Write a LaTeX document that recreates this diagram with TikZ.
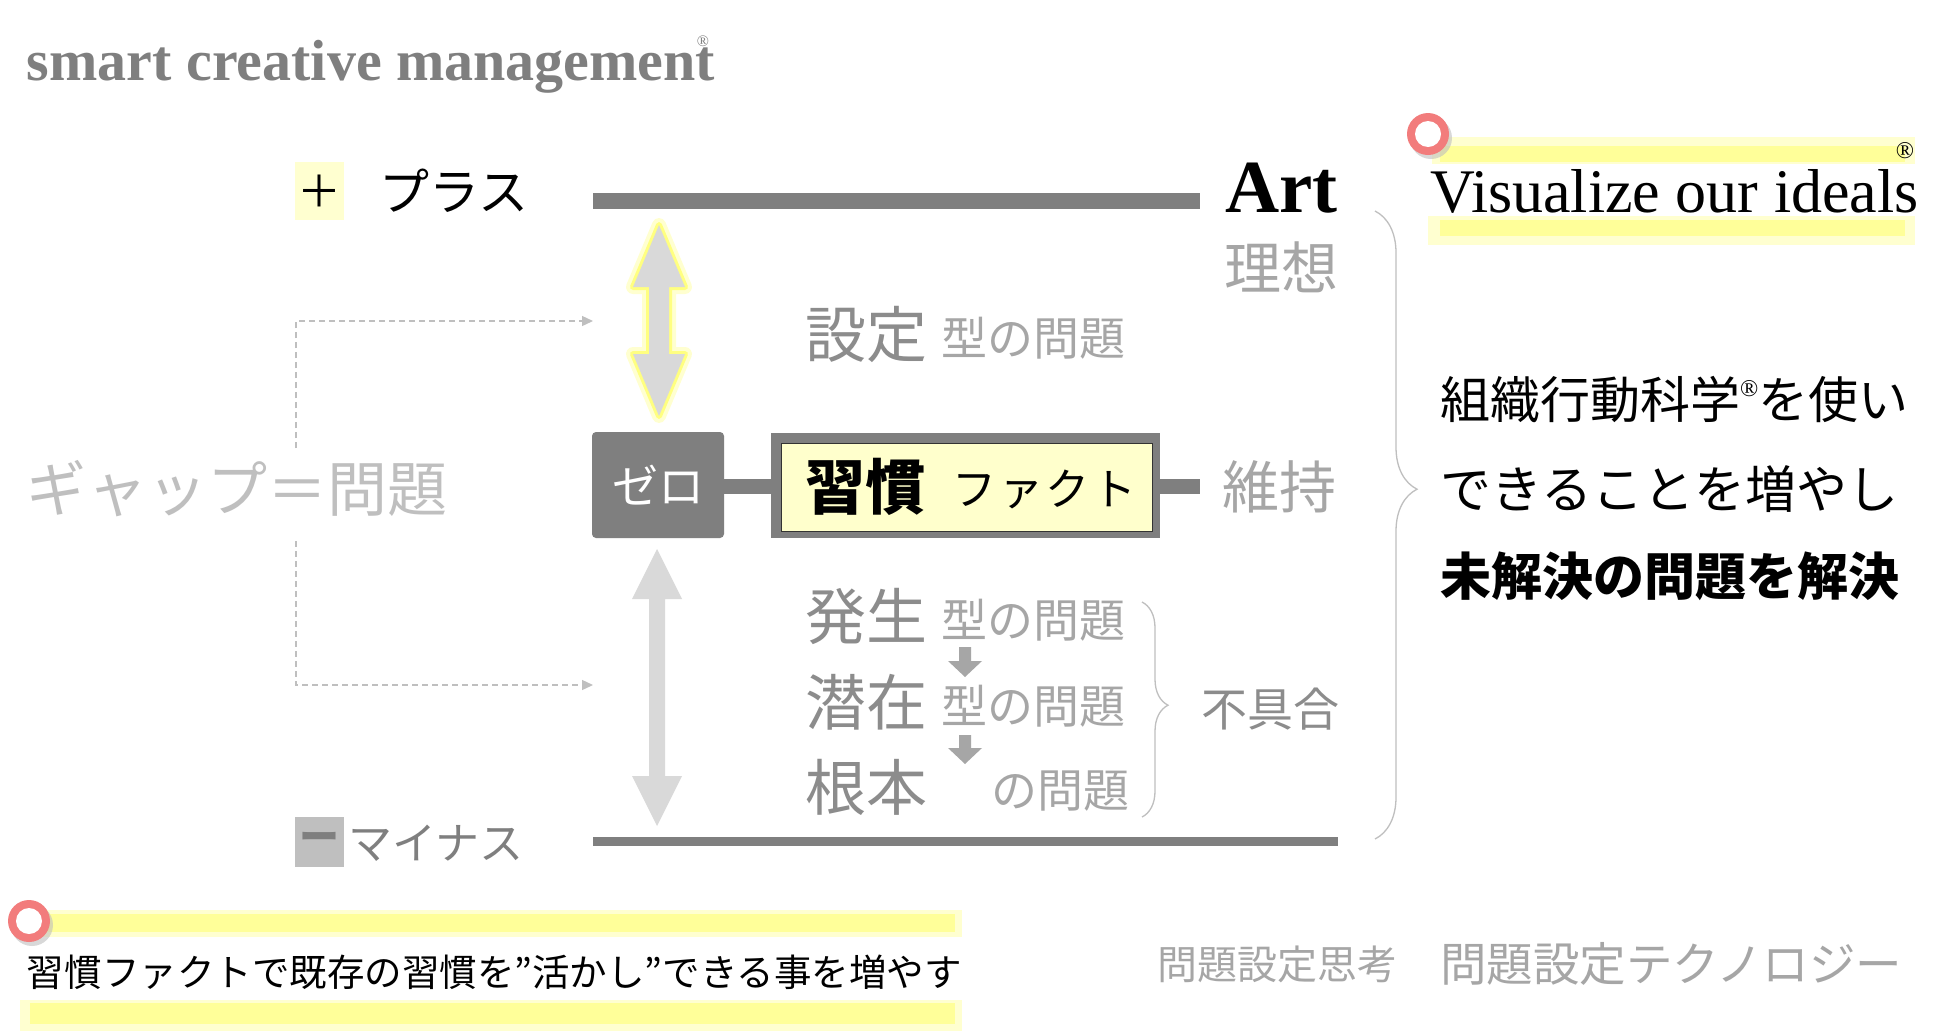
\documentclass[tikz,border=0pt]{standalone}
\usepackage{fontspec}
\setmainfont{Liberation Serif}
\newfontfamily\jp{Noto Sans CJK JP}
\usetikzlibrary{arrows.meta,decorations.pathreplacing,calc}
\definecolor{dgray}{HTML}{7F7F7F}
\definecolor{mgray}{HTML}{8C8C8C}
\definecolor{lgray}{HTML}{A6A6A6}
\definecolor{vlgray}{HTML}{BFBFBF}
\definecolor{agray}{HTML}{D9D9D9}
\definecolor{hly}{HTML}{FFFF99}
\definecolor{hlyl}{HTML}{FFFFD0}
\definecolor{glowy}{HTML}{FFFF80}
\definecolor{ringred}{HTML}{F27C7C}
\definecolor{boxy}{HTML}{FFFFCC}
\begin{document}
\begin{tikzpicture}[x=1pt,y=-1pt,
  txt/.style={inner sep=0pt, outer sep=0pt, anchor=west},
  jt/.style={txt, font=\jp\fontsize{#1}{#1}\selectfont},
  lt/.style={inner sep=0pt, outer sep=0pt, anchor=base west, font=\fontsize{#1}{#1}\selectfont},
  bar/.style={fill=dgray, inner sep=0pt, outer sep=0pt, anchor=west},
  hlo/.style={fill=hlyl},
  hli/.style={fill=hly},
  dashconn/.style={draw=vlgray, line width=1.3, dash pattern=on 6pt off 4pt},
  brc/.style={draw=vlgray, line width=1.3, decorate},
  smallarr/.style={fill=lgray}
]
\useasboundingbox (0,0) rectangle (1950,1031);
\fill[white] (0,0) rectangle (1950,1031);

% title
\node[lt=57, font=\bfseries\fontsize{58}{58}\selectfont, text=dgray] (title) at (27,80) {smart creative management};
\node[inner sep=0pt, font=\fontsize{16}{16}\selectfont, text=dgray] (titler) at (703,41) {®};

% plus / minus labels
\node[fill=hlyl, minimum width=49, minimum height=58, inner sep=0pt, font=\jp\fontsize{44}{44}\selectfont] (plusbox) at (319.5,191) {＋};
\node[jt=50] (plus) at (379,191) {プラス};
\node[fill=vlgray, minimum width=49, minimum height=50, inner sep=0pt, text=dgray, font=\jp\bfseries\fontsize{40}{40}\selectfont] (minusbox) at (319.5,842) {ー};
\node[jt=44, text=dgray] (minus) at (348,843) {マイナス};

% bars
\node[bar, minimum width=607, minimum height=16] (topbar) at (593,201) {};
\node[bar, minimum width=745, minimum height=9] (botbar) at (593,841) {};

% Art / right-column labels
\node[lt=75, font=\bfseries\fontsize{75}{75}\selectfont] (art) at (1225,212) {Art};
\node[jt=57, text=lgray] (risou) at (1224,267) {理想};
\node[jt=57, text=lgray] (iji) at (1222,487) {維持};
\node[jt=46, text=mgray] (fuguai) at (1201,709) {不具合};

% upper double arrow with glow
\path[draw=hlyl, line width=14, line join=round]
  (659,225) -- (685,287) -- (669,287) -- (669,354) -- (685,354) -- (659,416) -- (633,354) -- (649,354) -- (649,287) -- (633,287) -- cycle;
\path[draw=glowy, line width=6, line join=round, fill=agray]
  (659,225) -- (685,287) -- (669,287) -- (669,354) -- (685,354) -- (659,416) -- (633,354) -- (649,354) -- (649,287) -- (633,287) -- cycle;
\path[fill=agray]
  (659,225) -- (685,287) -- (669,287) -- (669,354) -- (685,354) -- (659,416) -- (633,354) -- (649,354) -- (649,287) -- (633,287) -- cycle;

% lower double arrow
\path[fill=agray]
  (657,549) -- (682,599) -- (665,599) -- (665,776) -- (682,776) -- (657,826) -- (632,776) -- (649,776) -- (649,599) -- (632,599) -- cycle;

% gap label and dashed connectors
\node[jt=60, text=vlgray] (gap) at (27,489) {ギャップ＝問題};
\coordinate (dtop) at (593,321);
\coordinate (dbot) at (593,685);
\draw[dashconn, -{Triangle[length=11pt,width=10pt]}] (296,448) -- (296,321) -- (dtop);
\draw[dashconn, -{Triangle[length=11pt,width=10pt]}] (296,541) -- (296,685) -- (dbot);

% settei
\node[jt=61, text=mgray] (settei) at (805,334) {設定};
\node[jt=46, text=lgray] (settei2) at (941,338) {型の問題};

% zero box and habit box
\node[fill=dgray, rounded corners=4, minimum width=132, minimum height=106, inner sep=0pt, text=white, font=\jp\fontsize{46}{46}\selectfont] (zero) at (658,485) {ゼロ};
\node[fill=dgray, minimum width=389, minimum height=105, inner sep=0pt] (habout) at (965.5,485.5) {};
\node[fill=boxy, draw=black!80, line width=1, minimum width=371, minimum height=88, inner sep=0pt] (habin) at (966.5,487) {};
\node[jt=60, font=\jp\bfseries\fontsize{60}{60}\selectfont] (habit) at (805,487) {習慣};
\node[jt=44] (fact) at (952,489) {フ\hspace{3pt}ァ\hspace{3pt}ク\hspace{3pt}ト};
\coordinate (rend) at (1200,486);
\draw[line width=15, dgray] (zero.east |- 0,486) -- (habout.west |- 0,486);
\draw[line width=15, dgray] (habout.east |- 0,486) -- (rend);

% lower problem types
\node[jt=61, text=mgray] (hassei) at (805,616) {発生};
\node[jt=46, text=lgray] (hassei2) at (941,620) {型の問題};
\node[jt=61, text=mgray] (senzai) at (805,702) {潜在};
\node[jt=46, text=lgray] (senzai2) at (941,706) {型の問題};
\node[jt=61, text=mgray] (konpon) at (805,787) {根本};
\node[jt=46, text=lgray] (konpon2) at (991,791) {の問題};
\path[smallarr] (959,647) -- (971,647) -- (971,661) -- (982,661) -- (965,677) -- (948,661) -- (959,661) -- cycle;
\path[smallarr] (959,735) -- (971,735) -- (971,748) -- (982,748) -- (965,764) -- (948,748) -- (959,748) -- cycle;

% braces
\draw[brc, decoration={brace, amplitude=26, aspect=0.48}] (1142,602) -- (1142,817);
\draw[brc, decoration={brace, amplitude=42, aspect=0.443}] (1375,211) -- (1375,839);

% right-top highlight
\fill[hlo] (1432,137) rectangle (1915,164);
\fill[hli] (1440,146) rectangle (1905,162);
\fill[hlo] (1428,216) rectangle (1915,245);
\fill[hli] (1440,220) rectangle (1905,236);
\fill[black!25, opacity=0.6] (1431,138) circle (21);
\fill[ringred] (1428,134) circle (21);
\fill[white] (1428,134) circle (13);
\node[lt=62] (vis) at (1430,212) {Visualize our ideals};
\node[inner sep=0pt, font=\fontsize{24}{24}\selectfont] (visr) at (1905,151) {®};

% right text block
\node[jt=50] (r1) at (1440,400) {組織行動科学\raisebox{0.45em}{\rmfamily\fontsize{24}{24}\selectfont ®}を使い};
\node[jt=51] (r2) at (1440,489) {できることを増やし};
\node[jt=51, font=\jp\bfseries\fontsize{51}{51}\selectfont] (r3) at (1440,576) {未解決の問題を解決};

% bottom-left highlight
\fill[hlo] (27,910) rectangle (962,937);
\fill[hli] (35,914) rectangle (955,932);
\fill[hlo] (20,1000) rectangle (962,1031);
\fill[hli] (30,1003) rectangle (955,1024);
\fill[black!25, opacity=0.6] (32,925) circle (21);
\fill[ringred] (29,921) circle (21);
\fill[white] (29,921) circle (13);
\node[jt=37.5] (bl) at (27,972) {習慣ファクトで既存の習慣を”活かし”できる事を増やす};

% bottom-right
\node[jt=40, text=lgray] (br1) at (1157,964) {問題設定思考};
\node[jt=46.5, text=lgray] (br2) at (1440,964) {問題設定テクノロジー};
\end{tikzpicture}
\end{document}
